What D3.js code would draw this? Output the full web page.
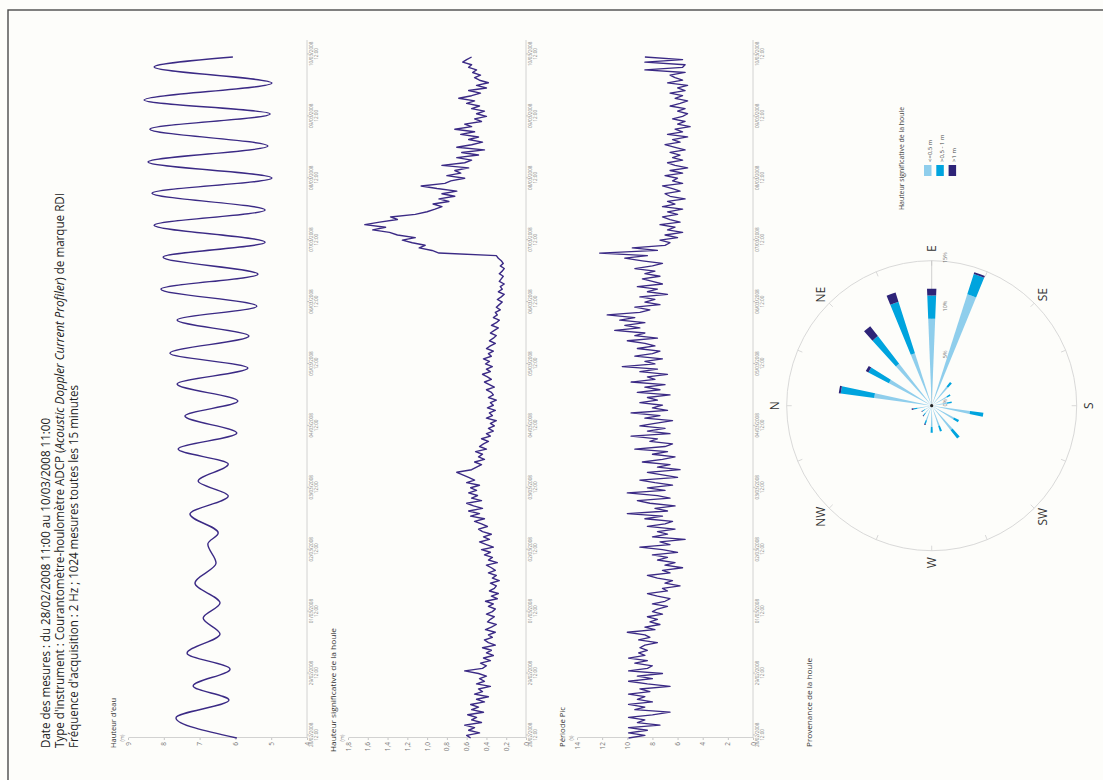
<!DOCTYPE html>
<html lang="fr">
<head>
<meta charset="utf-8">
<title>Houle</title>
<script src="https://cdn.jsdelivr.net/npm/d3@7"></script>
<style>
  html, body { margin:0; padding:0; background:#fdfdfa; }
  svg { display:block; }
  text { font-family: "Open Sans", "Noto Sans", sans-serif; }
</style>
</head>
<body>
<svg id="chart" width="1103" height="780"></svg>
<script>
// ---------------- data ----------------
const titleLine1 = "Date des mesures : du 28/02/2008 11:00 au 10/03/2008 11:00";
const titleLine2 = ["Type d'instrument : Courantomètre-houlomètre ADCP (", "Acoustic Doppler Current Profiler", ") de marque  RDI"];
const titleLine3 = "Fréquence d'acquisition : 2 Hz ; 1024 mesures toutes les 15 minutes";

const startTime = "28/02/2008 11:00";
const endTime = "10/03/2008 11:00";
const dayTicks = ["28/02/2008","29/02/2008","01/03/2008","02/03/2008","03/03/2008","04/03/2008",
                  "05/03/2008","06/03/2008","07/03/2008","08/03/2008","09/03/2008","10/03/2008"];
const tickHour = "12:00";

// Hauteur d'eau : extrema (hours since start, metres)
const tideHours = [0,7.8,14.7,20.2,26.7,32.9,40.3,46.5,52.3,60.1,67.8,75.2,79.5,86.8,93.8,
  99.6,106.2,112.0,118.2,124.8,130.6,137.2,143.4,149.2,155.8,162.0,167.4,174.0,179.8,186.4,
  192.2,198.8,204.7,211.2,217.1,223.3,229.5,236.0,241.9,247.3,253.9,260.1,264];
const tideLevels = [5.96,7.66,6.18,7.18,6.15,7.35,6.43,6.90,6.43,7.13,6.54,6.77,6.48,7.27,6.20,
  7.04,6.20,7.60,5.96,7.41,5.93,7.63,5.65,7.83,5.62,7.63,5.40,8.08,5.37,8.02,
  5.17,8.27,5.17,8.33,4.98,8.44,5.09,8.39,5.03,8.55,4.98,8.27,6.07];
const tideTicks = [4,5,6,7,8,9];

// Hauteur significative (m), hourly from start
const hsValues = [
  0.56,0.60,0.47,0.58,0.52,0.62,0.45,0.55,0.50,0.59,0.43,0.55,
  0.48,0.56,0.42,0.50,0.38,0.52,0.44,0.48,0.36,0.50,0.42,0.47,
  0.40,0.48,0.62,0.44,0.40,0.46,0.36,0.43,0.33,0.40,0.35,0.44,
  0.31,0.38,0.42,0.34,0.38,0.31,0.41,0.35,0.30,0.39,0.36,0.32,
  0.40,0.34,0.31,0.38,0.33,0.41,0.29,0.35,0.28,0.37,0.32,0.30,
  0.36,0.27,0.34,0.30,0.38,0.31,0.35,0.40,0.29,0.38,0.34,0.42,
  0.36,0.45,0.33,0.40,0.47,0.37,0.43,0.35,0.44,0.48,0.39,0.45,
  0.52,0.42,0.56,0.47,0.58,0.44,0.53,0.60,0.45,0.55,0.49,0.58,
  0.50,0.56,0.47,0.60,0.52,0.58,0.64,0.70,0.55,0.50,0.45,0.52,
  0.42,0.48,0.44,0.51,0.40,0.47,0.43,0.38,0.45,0.36,0.40,0.33,
  0.38,0.32,0.36,0.30,0.40,0.34,0.37,0.31,0.39,0.33,0.36,0.30,
  0.38,0.33,0.35,0.40,0.32,0.37,0.42,0.35,0.39,0.44,0.36,0.40,
  0.34,0.41,0.37,0.43,0.35,0.38,0.33,0.40,0.36,0.31,0.37,0.33,
  0.30,0.36,0.32,0.28,0.35,0.30,0.27,0.33,0.29,0.31,0.26,0.30,
  0.27,0.24,0.29,0.25,0.22,0.28,0.24,0.26,0.22,0.27,0.25,0.23,
  0.27,0.24,0.22,0.26,0.23,0.25,0.28,0.30,0.88,0.95,1.08,1.02,
  1.15,1.25,1.12,1.30,1.38,1.55,1.42,1.63,1.48,1.30,1.37,1.12,
  1.00,0.92,0.85,0.94,0.78,0.88,0.72,0.85,0.70,0.90,1.06,0.82,
  0.76,0.62,0.80,0.66,0.72,0.58,0.85,0.62,0.55,0.70,0.48,0.65,
  0.42,0.70,0.55,0.44,0.58,0.48,0.66,0.52,0.72,0.55,0.62,0.45,
  0.52,0.40,0.50,0.42,0.55,0.47,0.60,0.52,0.68,0.55,0.46,0.58,
  0.40,0.50,0.38,0.47,0.52,0.46,0.54,0.50,0.58,0.55,0.64,0.60,
  0.55];
const hsTicks = [0,0.2,0.4,0.6,0.8,1.0,1.2,1.4,1.6,1.8];

// Période pic (s), hourly from start
const tpValues = [
  9.9,8.6,9.9,8.4,9.9,7.4,9.2,8.6,9.9,8.0,6.6,9.4,
  8.6,9.9,8.0,9.2,8.6,9.9,8.2,9.0,6.6,8.4,9.9,8.0,
  9.2,7.2,9.9,8.4,8.0,9.4,8.4,9.9,8.6,9.1,8.4,9.0,
  8.6,7.6,9.1,8.2,8.6,10.0,7.8,8.6,7.4,8.2,7.6,8.4,
  7.2,8.0,7.6,6.8,8.0,7.0,6.6,7.6,8.4,6.8,7.2,5.8,
  7.0,6.4,7.6,8.4,6.6,7.2,5.6,7.0,6.2,7.6,6.8,8.0,
  6.0,7.2,9.0,6.6,7.4,5.4,8.0,6.8,7.6,6.2,8.4,7.0,
  6.4,8.6,7.2,10.0,6.8,7.8,6.2,8.2,9.2,6.6,7.6,10.0,
  7.0,8.4,6.4,7.8,9.0,6.0,7.2,8.4,5.8,7.6,6.6,8.8,
  7.2,6.2,8.0,6.8,9.4,7.0,6.4,8.2,7.6,9.7,6.6,8.4,
  7.0,9.0,7.8,6.4,8.6,7.4,9.7,6.8,8.0,7.2,9.0,7.6,
  8.4,6.6,9.2,7.4,8.6,7.0,9.7,7.8,8.4,6.8,9.0,7.6,
  10.4,7.8,8.6,7.2,9.4,8.0,7.4,9.2,7.8,8.6,10.0,7.6,
  9.4,8.6,11.0,9.0,10.2,8.6,10.6,9.4,11.6,9.0,8.2,9.4,
  7.4,8.6,7.8,9.0,6.8,8.4,7.6,9.2,7.2,8.0,8.8,7.4,
  8.6,7.8,9.4,8.0,7.2,8.8,10.2,8.4,12.2,7.6,9.6,7.0,
  6.6,7.4,6.0,7.0,5.6,6.8,6.2,7.4,5.8,6.6,7.2,6.0,
  6.8,5.6,7.2,6.2,6.8,5.4,6.6,7.0,5.8,6.4,7.2,5.6,
  6.4,6.0,7.0,5.6,6.6,5.2,6.2,6.8,5.6,6.4,5.8,6.6,
  5.4,6.2,7.0,5.8,6.4,5.2,6.8,5.6,6.2,5.0,6.0,5.4,
  6.4,5.6,5.2,6.0,5.4,6.6,5.8,5.2,6.2,5.6,6.6,5.4,
  6.0,5.2,6.8,5.6,6.2,6.6,5.4,8.6,5.6,5.4,8.6,5.6,
  8.6];
const tpTicks = [0,2,4,6,8,10,12,14];

// Provenance de la houle : % per 20° sector, per class of Hs
const roseDirections = [10,30,50,70,90,110,130,150,170,190,210,230,250,270,290,310,330,350];
const roseLow  = [6.0,5.0,5.5,5.7,9.0,12.1,2.5,1.8,1.6,4.0,2.6,3.2,2.2,2.2,1.6,1.0,0.8,1.5];
const roseMid  = [3.5,2.4,3.6,5.6,2.4,2.2,0.6,0.4,0.5,1.4,0.6,1.1,0.6,0.6,0.4,0.3,0.3,0.4];
const roseHigh = [0.2,0.3,1.3,1.0,0.7,0.2,0,0,0,0,0,0,0,0,0.1,0.1,0.1,0.2];
const roseClasses = ["<=0,5 m", ">0,5 - 1 m", ">1 m"];
const roseTicks = [0,5,10,15];
const compassNames = ["N","NE","E","SE","S","SW","W","NW"];
const compassAngles = [0,45,90,135,180,225,270,315];

const panelTitles = ["Hauteur d'eau", "Hauteur significative de la houle", "Période Pic", "Provenance de la houle"];
const panelUnits = ["(m)", "(m)", "(s)"];
const legendTitle = "Hauteur significative de la houle";

// ---------------- drawing ----------------
const lineColor = "#3b2a85";
const roseColors = ["#8fceec", "#00a4de", "#2e2478"];
const axisColor = "#c6c6c6";
const labelColor = "#777";

const svg = d3.select("#chart");
svg.append("rect").attr("width",1103).attr("height",780).attr("fill","#fdfdfa");
// whole page is drawn in portrait and turned a quarter turn
const page = svg.append("g").attr("transform","translate(0,780) rotate(-90)");

page.append("rect").attr("x",-20).attr("y",8).attr("width",790).attr("height",1200)
  .attr("fill","none").attr("stroke","#4a4a4a").attr("stroke-width",1.4);

// titles
page.append("text").attr("x",32).attr("y",50).attr("font-size",12).attr("fill","#222")
  .attr("textLength",330).attr("lengthAdjust","spacingAndGlyphs").text(titleLine1);
const t2 = page.append("text").attr("x",32).attr("y",64).attr("font-size",12).attr("fill","#222")
  .attr("textLength",555).attr("lengthAdjust","spacingAndGlyphs");
t2.append("tspan").text(titleLine2[0]);
t2.append("tspan").attr("font-style","italic").text(titleLine2[1]);
t2.append("tspan").text(titleLine2[2]);
page.append("text").attr("x",32).attr("y",78).attr("font-size",12).attr("fill","#222")
  .attr("textLength",363).attr("lengthAdjust","spacingAndGlyphs").text(titleLine3);

const parseT = d3.utcParse("%d/%m/%Y %H:%M");
const t0 = parseT(startTime), t1 = parseT(endTime);
const hourToDate = h => new Date(t0.getTime() + h * 3600e3);
const x = d3.scaleUtc().domain([t0, t1]).range([42, 723]);
const tickDates = dayTicks.map(d => parseT(d + " " + tickHour));

const fmtComma = d => d === 0 ? "0" : d3.format(".1f")(d).replace(".", ",");

const panels = [
  {title: panelTitles[0], titleLen: 50, titleX: 32, unit: panelUnits[0], domain: [4, 9], bottom: 307, top: 128, ticks: tideTicks, fmt: d3.format("d"),
   data: tideHours.map((h, i) => ({t: hourToDate(h), v: tideLevels[i]})), curve: d3.curveMonotoneX, width: 1.4},
  {title: panelTitles[1], titleLen: 124, titleX: 28, unit: panelUnits[1], domain: [0, 1.8], bottom: 526, top: 348, ticks: hsTicks, fmt: fmtComma,
   data: hsValues.map((v, i) => ({t: hourToDate(i), v})), curve: d3.curveLinear, width: 1.4},
  {title: panelTitles[2], titleLen: 40, titleX: 33, unit: panelUnits[2], domain: [0, 14], bottom: 753, top: 577, ticks: tpTicks, fmt: d3.format("d"),
   data: tpValues.map((v, i) => ({t: hourToDate(i), v})), curve: d3.curveLinear, width: 1.3}
];

panels.forEach(p => {
  const y = d3.scaleLinear().domain(p.domain).range([p.bottom, p.top]);
  const g = page.append("g");

  // value axis
  const ya = g.append("g").attr("transform", `translate(${x.range()[0]},0)`)
    .call(d3.axisLeft(y).tickValues(p.ticks).tickSize(2).tickSizeOuter(0).tickPadding(2).tickFormat(p.fmt));
  ya.select(".domain").attr("stroke", axisColor).attr("stroke-width", 0.8);
  ya.selectAll(".tick line").attr("stroke", axisColor);
  ya.selectAll(".tick text").attr("font-size", 6.5).attr("fill", labelColor).attr("font-family", "'Open Sans', sans-serif");

  // time axis
  const xa = g.append("g").attr("transform", `translate(0,${p.bottom})`)
    .call(d3.axisBottom(x).tickValues(tickDates).tickSize(2).tickSizeOuter(0).tickFormat(""));
  xa.select(".domain").remove();
  xa.selectAll(".tick line").attr("stroke", axisColor);
  xa.selectAll(".tick text").remove();
  xa.selectAll(".tick").each(function(d, i) {
    const t = d3.select(this).append("text").attr("text-anchor", "middle").attr("fill", "#888")
      .attr("font-size", 4.6).attr("font-family", "'Open Sans', sans-serif");
    t.append("tspan").attr("x", 0).attr("y", 6).text(dayTicks[i]);
    t.append("tspan").attr("x", 0).attr("y", 11).text(tickHour);
  });
  g.append("line").attr("x1", x.range()[0]).attr("x2", 740).attr("y1", p.bottom).attr("y2", p.bottom)
    .attr("stroke", axisColor).attr("stroke-width", 0.8);

  // titles
  g.append("text").attr("x", p.titleX).attr("y", p.top - 12).attr("font-size", 8).attr("fill", "#333")
    .attr("textLength", p.titleLen).attr("lengthAdjust", "spacingAndGlyphs").text(p.title);
  g.append("text").attr("x", x.range()[0]).attr("y", p.top - 4).attr("text-anchor", "middle")
    .attr("font-size", 4.5).attr("fill", "#777").text(p.unit);

  // series
  const line = d3.line().x(d => x(d.t)).y(d => y(d.v)).curve(p.curve);
  g.append("path").datum(p.data).attr("d", line).attr("fill", "none")
    .attr("stroke", lineColor).attr("stroke-width", p.width).attr("stroke-linejoin", "round");
});

// ---------- wind rose ----------
page.append("text").attr("x", 33).attr("y", 812).attr("font-size", 8).attr("fill", "#333")
  .attr("textLength", 89).attr("lengthAdjust", "spacingAndGlyphs").text(panelTitles[3]);

const cx = 374.3, cy = 931.7, R = 145;
const r = d3.scaleLinear().domain([0, 15]).range([0, R]);
const rose = page.append("g").attr("transform", `translate(${cx},${cy})`);

rose.append("circle").attr("r", R).attr("fill", "none").attr("stroke", "#cfcfcf").attr("stroke-width", 0.8);
rose.selectAll("line.tk").data(d3.range(16)).join("line").attr("class", "tk")
  .each(function(i) {
    const a = i * 22.5 * Math.PI / 180;
    d3.select(this).attr("x1", (R - 5) * Math.sin(a)).attr("y1", -(R - 5) * Math.cos(a))
      .attr("x2", R * Math.sin(a)).attr("y2", -R * Math.cos(a));
  })
  .attr("stroke", "#cfcfcf").attr("stroke-width", 0.8);

// radial axis along E
rose.append("line").attr("x1", 0).attr("y1", 0).attr("x2", R).attr("y2", 0)
  .attr("stroke", "#bdbdbd").attr("stroke-width", 0.7);
rose.selectAll("text.rt").data(roseTicks).join("text").attr("class", "rt")
  .attr("x", d => r(d) + 3).attr("y", 15).attr("text-anchor", "middle")
  .attr("font-size", 5.5).attr("fill", "#777").text(d => d + "%");

// bars
const roseRows = roseDirections.map((d, i) => ({dir: d, low: roseLow[i], mid: roseMid[i], high: roseHigh[i]}));
const stacked = d3.stack().keys(["low", "mid", "high"])(roseRows);
const half = 2.3 * Math.PI / 180;
const arc = d3.arc();
stacked.forEach((layer, k) => {
  rose.append("g").selectAll("path").data(layer.filter(s => s[1] > s[0])).join("path")
    .attr("d", s => arc({
      innerRadius: r(s[0]), outerRadius: r(s[1]),
      startAngle: s.data.dir * Math.PI / 180 - half, endAngle: s.data.dir * Math.PI / 180 + half
    }))
    .attr("fill", roseColors[k]);
});
rose.append("circle").attr("r", 1.6).attr("fill", "#222");

// compass labels
rose.selectAll("text.cp").data(compassNames).join("text").attr("class", "cp")
  .attr("x", (d, i) => 157 * Math.sin(compassAngles[i] * Math.PI / 180))
  .attr("y", (d, i) => -157 * Math.cos(compassAngles[i] * Math.PI / 180))
  .attr("text-anchor", "middle").attr("dominant-baseline", "central")
  .attr("font-size", 12).attr("fill", "#333").text(d => d);

// legend
const lg = page.append("g");
lg.append("text").attr("x", 570).attr("y", 904).attr("font-size", 6.3).attr("fill", "#444")
  .attr("textLength", 103).attr("lengthAdjust", "spacingAndGlyphs").text(legendTitle);
roseClasses.forEach((c, i) => {
  lg.append("rect").attr("x", 604).attr("y", 924 + i * 12.3).attr("width", 11).attr("height", 7.5).attr("fill", roseColors[i]);
  lg.append("text").attr("x", 618).attr("y", 931.5 + i * 12.3).attr("font-size", 6).attr("fill", "#444").text(c);
});
</script>
</body>
</html>
